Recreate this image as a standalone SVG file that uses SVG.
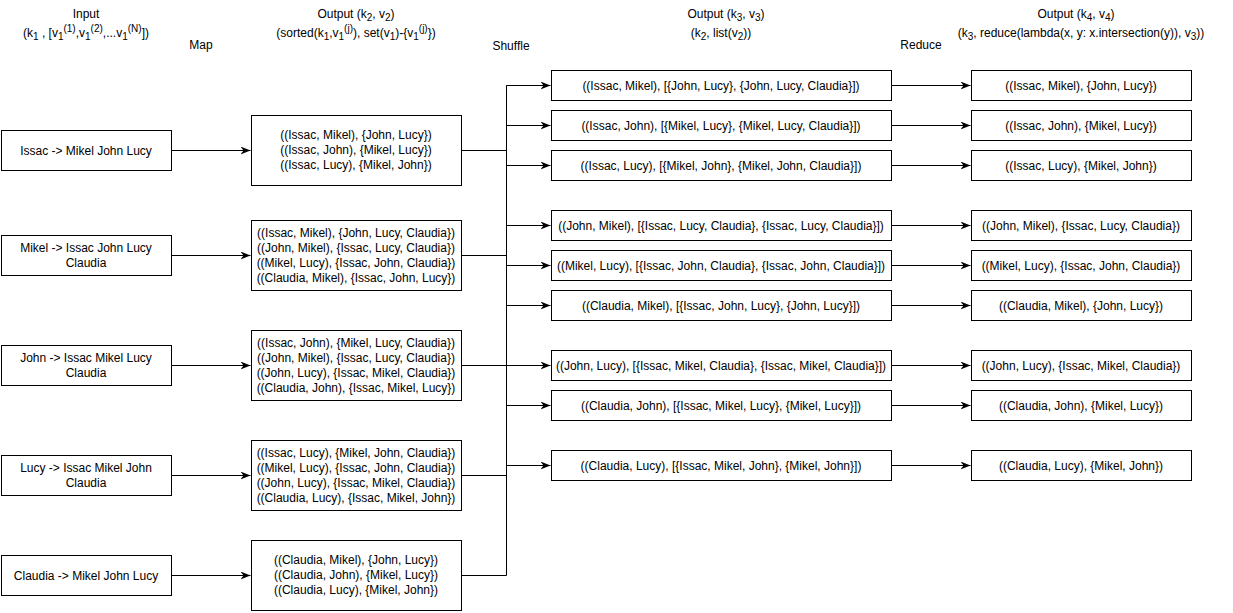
<svg xmlns="http://www.w3.org/2000/svg" width="1233" height="613" viewBox="0 0 1233 613">
<style>
text{font-family:"Liberation Sans",Arial,Helvetica,sans-serif;font-size:12px;fill:#000;text-anchor:middle}
.s{font-size:10px}
rect{fill:#fff;stroke:#000;stroke-width:1}
.c path{fill:none;stroke:#000;stroke-width:1}
</style>
<defs>
<marker id="ah" viewBox="0 0 10 8" markerWidth="10" markerHeight="8" refX="10" refY="4" orient="auto" markerUnits="userSpaceOnUse">
<path d="M0,0 L10,4 L0,8 L3,4 z" fill="#000" stroke="none"/>
</marker>
</defs>
<rect x="0" y="0" width="1233" height="613" style="fill:#fff;stroke:none"/>
<g id="headers">
<text x="86" y="18">Input</text>
<text x="86" y="37">(k<tspan class="s" dy="3">1</tspan><tspan dy="-3"> , [v</tspan><tspan class="s" dy="3">1</tspan><tspan class="s" dy="-8">(1)</tspan><tspan dy="5">,v</tspan><tspan class="s" dy="3">1</tspan><tspan class="s" dy="-8">(2)</tspan><tspan dy="5">,...v</tspan><tspan class="s" dy="3">1</tspan><tspan class="s" dy="-8">(N)</tspan><tspan dy="5">])</tspan></text>
<text x="201" y="49">Map</text>
<text x="356" y="18">Output (k<tspan class="s" dy="3">2</tspan><tspan dy="-3">, v</tspan><tspan class="s" dy="3">2</tspan><tspan dy="-3">)</tspan></text>
<text x="356" y="37">(sorted(k<tspan class="s" dy="3">1</tspan><tspan dy="-3">,v</tspan><tspan class="s" dy="3">1</tspan><tspan class="s" dy="-8">(j)</tspan><tspan dy="5">), set(v</tspan><tspan class="s" dy="3">1</tspan><tspan dy="-3">)-{v</tspan><tspan class="s" dy="3">1</tspan><tspan class="s" dy="-8">(j)</tspan><tspan dy="5">})</tspan></text>
<text x="511" y="50">Shuffle</text>
<text x="726" y="18">Output (k<tspan class="s" dy="3">3</tspan><tspan dy="-3">, v</tspan><tspan class="s" dy="3">3</tspan><tspan dy="-3">)</tspan></text>
<text x="721" y="37">(k<tspan class="s" dy="3">2</tspan><tspan dy="-3">, list(v</tspan><tspan class="s" dy="3">2</tspan><tspan dy="-3">))</tspan></text>
<text x="921" y="49">Reduce</text>
<text x="1076" y="18">Output (k<tspan class="s" dy="3">4</tspan><tspan dy="-3">, v</tspan><tspan class="s" dy="3">4</tspan><tspan dy="-3">)</tspan></text>
<text x="1081" y="37">(k<tspan class="s" dy="3">3</tspan><tspan dy="-3">, reduce(lambda(x, y: x.intersection(y)), v</tspan><tspan class="s" dy="3">3</tspan><tspan dy="-3">))</tspan></text>
</g>
<g id="connectors" class="c">
<path d="M171.5,150.5 H250.5" marker-end="url(#ah)"/>
<path d="M171.5,255.5 H250.5" marker-end="url(#ah)"/>
<path d="M171.5,365.5 H250.5" marker-end="url(#ah)"/>
<path d="M171.5,475.5 H250.5" marker-end="url(#ah)"/>
<path d="M171.5,575.5 H250.5" marker-end="url(#ah)"/>
<path d="M461.5,150.5 H506.5 V85.5 H550.5" marker-end="url(#ah)"/>
<path d="M506.5,125.5 H550.5" marker-end="url(#ah)"/>
<path d="M506.5,165.5 H550.5" marker-end="url(#ah)"/>
<path d="M461.5,255.5 H506.5 V225.5 H550.5" marker-end="url(#ah)"/>
<path d="M506.5,265.5 H550.5" marker-end="url(#ah)"/>
<path d="M506.5,305.5 H550.5" marker-end="url(#ah)"/>
<path d="M461.5,365.5 H506.5 M506.5,365.5 H550.5" marker-end="url(#ah)"/>
<path d="M506.5,405.5 H550.5" marker-end="url(#ah)"/>
<path d="M461.5,475.5 H506.5 V465.5 H550.5" marker-end="url(#ah)"/>
<path d="M461.5,575.5 H506.5 V85.5"/>
<path d="M891.5,85.5 H970.5" marker-end="url(#ah)"/>
<path d="M891.5,125.5 H970.5" marker-end="url(#ah)"/>
<path d="M891.5,165.5 H970.5" marker-end="url(#ah)"/>
<path d="M891.5,225.5 H970.5" marker-end="url(#ah)"/>
<path d="M891.5,265.5 H970.5" marker-end="url(#ah)"/>
<path d="M891.5,305.5 H970.5" marker-end="url(#ah)"/>
<path d="M891.5,365.5 H970.5" marker-end="url(#ah)"/>
<path d="M891.5,405.5 H970.5" marker-end="url(#ah)"/>
<path d="M891.5,465.5 H970.5" marker-end="url(#ah)"/>
</g>
<g id="in-issac"><rect x="1.5" y="130.5" width="170" height="40"/><text x="86" y="155">Issac -&gt; Mikel John Lucy</text></g>
<g id="in-mikel"><rect x="1.5" y="235.5" width="170" height="40"/><text x="86" y="252">Mikel -&gt; Issac John Lucy</text><text x="86" y="267">Claudia</text></g>
<g id="in-john"><rect x="1.5" y="345.5" width="170" height="40"/><text x="86" y="362">John -&gt; Issac Mikel Lucy</text><text x="86" y="377">Claudia</text></g>
<g id="in-lucy"><rect x="1.5" y="455.5" width="170" height="40"/><text x="86" y="472">Lucy -&gt; Issac Mikel John</text><text x="86" y="487">Claudia</text></g>
<g id="in-claudia"><rect x="1.5" y="555.5" width="170" height="40"/><text x="86" y="580">Claudia -&gt; Mikel John Lucy</text></g>
<g id="map-issac"><rect x="251.5" y="115.5" width="210" height="70"/>
<text x="356" y="139">((Issac, Mikel), {John, Lucy})</text><text x="356" y="154">((Issac, John), {Mikel, Lucy})</text><text x="356" y="169">((Issac, Lucy), {Mikel, John})</text></g>
<g id="map-mikel"><rect x="251.5" y="220.5" width="210" height="70"/>
<text x="356" y="237">((Issac, Mikel), {John, Lucy, Claudia})</text><text x="356" y="252">((John, Mikel), {Issac, Lucy, Claudia})</text><text x="356" y="267">((Mikel, Lucy), {Issac, John, Claudia})</text><text x="356" y="282">((Claudia, Mikel), {Issac, John, Lucy})</text></g>
<g id="map-john"><rect x="251.5" y="330.5" width="210" height="70"/>
<text x="356" y="347">((Issac, John), {Mikel, Lucy, Claudia})</text><text x="356" y="362">((John, Mikel), {Issac, Lucy, Claudia})</text><text x="356" y="377">((John, Lucy), {Issac, Mikel, Claudia})</text><text x="356" y="392">((Claudia, John), {Issac, Mikel, Lucy})</text></g>
<g id="map-lucy"><rect x="251.5" y="440.5" width="210" height="70"/>
<text x="356" y="457">((Issac, Lucy), {Mikel, John, Claudia})</text><text x="356" y="472">((Mikel, Lucy), {Issac, John, Claudia})</text><text x="356" y="487">((John, Lucy), {Issac, Mikel, Claudia})</text><text x="356" y="502">((Claudia, Lucy), {Issac, Mikel, John})</text></g>
<g id="map-claudia"><rect x="251.5" y="540.5" width="210" height="70"/>
<text x="356" y="564">((Claudia, Mikel), {John, Lucy})</text><text x="356" y="579">((Claudia, John), {Mikel, Lucy})</text><text x="356" y="594">((Claudia, Lucy), {Mikel, John})</text></g>
<g id="sh-1"><rect x="551.5" y="70.5" width="340" height="30"/><text x="721" y="90">((Issac, Mikel), [{John, Lucy}, {John, Lucy, Claudia}])</text></g>
<g id="sh-2"><rect x="551.5" y="110.5" width="340" height="30"/><text x="721" y="130">((Issac, John), [{Mikel, Lucy}, {Mikel, Lucy, Claudia}])</text></g>
<g id="sh-3"><rect x="551.5" y="150.5" width="340" height="30"/><text x="721" y="170">((Issac, Lucy), [{Mikel, John}, {Mikel, John, Claudia}])</text></g>
<g id="sh-4"><rect x="551.5" y="210.5" width="340" height="30"/><text x="721" y="230">((John, Mikel), [{Issac, Lucy, Claudia}, {Issac, Lucy, Claudia}])</text></g>
<g id="sh-5"><rect x="551.5" y="250.5" width="340" height="30"/><text x="721" y="270">((Mikel, Lucy), [{Issac, John, Claudia}, {Issac, John, Claudia}])</text></g>
<g id="sh-6"><rect x="551.5" y="290.5" width="340" height="30"/><text x="721" y="310">((Claudia, Mikel), [{Issac, John, Lucy}, {John, Lucy}])</text></g>
<g id="sh-7"><rect x="551.5" y="350.5" width="340" height="30"/><text x="721" y="370">((John, Lucy), [{Issac, Mikel, Claudia}, {Issac, Mikel, Claudia}])</text></g>
<g id="sh-8"><rect x="551.5" y="390.5" width="340" height="30"/><text x="721" y="410">((Claudia, John), [{Issac, Mikel, Lucy}, {Mikel, Lucy}])</text></g>
<g id="sh-9"><rect x="551.5" y="450.5" width="340" height="30"/><text x="721" y="470">((Claudia, Lucy), [{Issac, Mikel, John}, {Mikel, John}])</text></g>
<g id="rd-1"><rect x="971.5" y="70.5" width="220" height="30"/><text x="1081" y="90">((Issac, Mikel), {John, Lucy})</text></g>
<g id="rd-2"><rect x="971.5" y="110.5" width="220" height="30"/><text x="1081" y="130">((Issac, John), {Mikel, Lucy})</text></g>
<g id="rd-3"><rect x="971.5" y="150.5" width="220" height="30"/><text x="1081" y="170">((Issac, Lucy), {Mikel, John})</text></g>
<g id="rd-4"><rect x="971.5" y="210.5" width="220" height="30"/><text x="1081" y="230">((John, Mikel), {Issac, Lucy, Claudia})</text></g>
<g id="rd-5"><rect x="971.5" y="250.5" width="220" height="30"/><text x="1081" y="270">((Mikel, Lucy), {Issac, John, Claudia})</text></g>
<g id="rd-6"><rect x="971.5" y="290.5" width="220" height="30"/><text x="1081" y="310">((Claudia, Mikel), {John, Lucy})</text></g>
<g id="rd-7"><rect x="971.5" y="350.5" width="220" height="30"/><text x="1081" y="370">((John, Lucy), {Issac, Mikel, Claudia})</text></g>
<g id="rd-8"><rect x="971.5" y="390.5" width="220" height="30"/><text x="1081" y="410">((Claudia, John), {Mikel, Lucy})</text></g>
<g id="rd-9"><rect x="971.5" y="450.5" width="220" height="30"/><text x="1081" y="470">((Claudia, Lucy), {Mikel, John})</text></g>
</svg>
